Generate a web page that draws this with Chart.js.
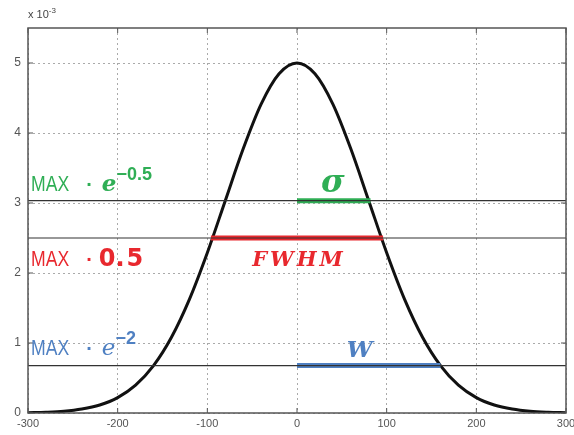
<!DOCTYPE html>
<html>
<head>
<meta charset="utf-8">
<script src="https://cdn.jsdelivr.net/npm/chart.js@4/dist/chart.umd.min.js"></script>
<style>
  html, body { margin: 0; padding: 0; background: #fff; }
  #wrap { width: 574px; height: 435px; }
</style>
</head>
<body>
<div id="wrap"><canvas id="chart" width="574" height="435"></canvas></div>
<script>
// curve, y in units of 1e-3
const curveX = [-300, -280, -260, -240, -220, -200, -180, -160, -140, -120, -100, -80, -60, -40, -20, 0,
  20, 40, 60, 80, 100, 120, 140, 160, 180, 200, 220, 240, 260, 280, 300];
const curveY = [0.004, 0.011, 0.025, 0.056, 0.114, 0.22, 0.398, 0.677, 1.082, 1.623, 2.289, 3.033, 3.774, 4.412, 4.846, 5.0,
  4.846, 4.412, 3.774, 3.033, 2.289, 1.623, 1.082, 0.677, 0.398, 0.22, 0.114, 0.056, 0.025, 0.011, 0.004];

const levelY = [3.033, 2.5, 0.677];           // MAX*e^-0.5, MAX*0.5, MAX*e^-2
const sigmaX = [0, 82];
const fwhmX = [-96, 96];
const wX = [0, 160];
const xTicks = [-300, -200, -100, 0, 100, 200, 300];
const yTicks = [0, 1, 2, 3, 4, 5];

const GREEN = "#2fae55";
const RED = "#e8282e";
const BLUE = "#4f80c2";

function seg(xs, y) {
  return xs.map((x) => ({ x, y }));
}

const datasets = [];
levelY.forEach((y) => {
  datasets.push({
    data: seg([-300, 300], y),
    borderColor: "#333",
    borderWidth: 1.2,
    pointRadius: 0,
  });
});
datasets.push({ data: seg(sigmaX, levelY[0]), borderColor: GREEN, borderWidth: 5, pointRadius: 0 });
datasets.push({ data: seg(fwhmX, levelY[1]), borderColor: RED, borderWidth: 5, pointRadius: 0 });
datasets.push({ data: seg(wX, levelY[2]), borderColor: BLUE, borderWidth: 5, pointRadius: 0 });
datasets.push({
  data: curveX.map((x, i) => ({ x, y: curveY[i] })),
  borderColor: "#111",
  borderWidth: 3,
  pointRadius: 0,
  cubicInterpolationMode: "monotone",
});

function label(ctx, parts, x, y) {
  let cx = x;
  parts.forEach((p) => {
    const sx = p.sx || 1;
    cx += p.dx || 0;
    ctx.font = p.font;
    ctx.fillStyle = p.color;
    ctx.save();
    ctx.translate(cx, y + (p.dy || 0));
    ctx.scale(sx, 1);
    ctx.fillText(p.text, 0, 0);
    ctx.restore();
    cx += ctx.measureText(p.text).width * sx;
  });
}

const annotations = {
  id: "annotations",
  afterDatasetsDraw(chart) {
    const { ctx, chartArea, scales } = chart;
    const xs = scales.x;
    const ys = scales.y;
    ctx.save();
    // box
    ctx.strokeStyle = "#555";
    ctx.lineWidth = 1.5;
    ctx.strokeRect(chartArea.left, chartArea.top, chartArea.right - chartArea.left, chartArea.bottom - chartArea.top);
    // inward ticks
    ctx.lineWidth = 1;
    xTicks.forEach((t) => {
      const px = xs.getPixelForValue(t);
      ctx.beginPath();
      ctx.moveTo(px, chartArea.bottom);
      ctx.lineTo(px, chartArea.bottom - 5);
      ctx.moveTo(px, chartArea.top);
      ctx.lineTo(px, chartArea.top + 5);
      ctx.stroke();
    });
    yTicks.forEach((t) => {
      const py = ys.getPixelForValue(t);
      ctx.beginPath();
      ctx.moveTo(chartArea.left, py);
      ctx.lineTo(chartArea.left + 5, py);
      ctx.moveTo(chartArea.right, py);
      ctx.lineTo(chartArea.right - 5, py);
      ctx.stroke();
    });
    // exponent marker
    label(ctx, [
      { text: "x 10", font: "11px 'Liberation Sans'", color: "#444" },
      { text: "-3", font: "8px 'Liberation Sans'", color: "#444", dy: -5 },
    ], chartArea.left, chartArea.top - 10);

    ctx.textBaseline = "alphabetic";
    const left = chartArea.left + 3;
    const sans = "22px 'Liberation Sans'";
    const dot = "bold 20px 'Liberation Sans'";
    const mathI = "italic bold 23px 'DejaVu Serif'";
    const sup = "bold 18px 'Liberation Sans'";
    label(ctx, [
      { text: "MAX", font: sans, color: GREEN, sx: 0.8 },
      { text: "\u00b7", font: dot, color: GREEN, dx: 17 },
      { text: "e", font: mathI, color: GREEN, dx: 9 },
      { text: "\u22120.5", font: sup, color: GREEN, dx: 0, dy: -11 },
    ], left, ys.getPixelForValue(levelY[0]) - 10);
    label(ctx, [
      { text: "MAX", font: sans, color: RED, sx: 0.8 },
      { text: "\u00b7", font: dot, color: RED, dx: 17 },
      { text: "0", font: "bold 24px 'DejaVu Sans'", color: RED, dx: 6 },
      { text: ".", font: "bold 24px 'DejaVu Sans'", color: RED, dx: 0 },
      { text: "5", font: "bold 24px 'DejaVu Sans'", color: RED, dx: 2 },
    ], left, ys.getPixelForValue(levelY[1]) + 28);
    label(ctx, [
      { text: "MAX", font: sans, color: BLUE, sx: 0.8 },
      { text: "\u00b7", font: dot, color: BLUE, dx: 17 },
      { text: "e", font: "italic 23px 'DejaVu Serif'", color: BLUE, dx: 9 },
      { text: "\u22122", font: sup, color: BLUE, dx: 0, dy: -11 },
    ], left, ys.getPixelForValue(levelY[2]) - 11);

    ctx.textAlign = "center";
    ctx.font = "italic bold 32px 'DejaVu Serif'";
    ctx.fillStyle = GREEN;
    ctx.fillText("\u03c3", xs.getPixelForValue(40), ys.getPixelForValue(levelY[0]) - 9);
    ctx.font = "italic bold 21px 'DejaVu Serif'";
    ctx.fillStyle = RED;
    ctx.letterSpacing = "3px";
    ctx.fillText("FWHM", xs.getPixelForValue(0) + 2, ys.getPixelForValue(levelY[1]) + 28);
    ctx.letterSpacing = "0px";
    ctx.font = "italic bold 23px 'DejaVu Serif'";
    ctx.fillStyle = BLUE;
    ctx.fillText("W", xs.getPixelForValue(70), ys.getPixelForValue(levelY[2]) - 9);
    ctx.restore();
  },
};

new Chart(document.getElementById("chart"), {
  type: "line",
  data: { datasets },
  options: {
    responsive: false,
    animation: false,
    layout: { padding: { top: 28, right: 8, left: 0, bottom: 0 } },
    plugins: { legend: { display: false }, tooltip: { enabled: false } },
    scales: {
      x: {
        type: "linear",
        min: -300,
        max: 300,
        afterBuildTicks: (scale) => { scale.ticks = xTicks.map((v) => ({ value: v })); },
        afterFit: (scale) => {
          scale.height = 22;
          scale.paddingLeft = 0;
          scale.paddingRight = 0;
        },
        grid: { color: "#aaa", lineWidth: 1, drawTicks: false },
        border: { display: false, dash: [2, 3] },
        ticks: { color: "#555", font: { family: "'Liberation Sans'", size: 11 }, padding: 4, maxRotation: 0 },
      },
      y: {
        min: 0,
        max: 5.5,
        afterBuildTicks: (scale) => { scale.ticks = yTicks.map((v) => ({ value: v })); },
        afterFit: (scale) => {
          scale.width = 28;
          scale.paddingTop = 0;
          scale.paddingBottom = 0;
        },
        grid: { color: "#aaa", lineWidth: 1, drawTicks: false },
        border: { display: false, dash: [2, 3] },
        ticks: { color: "#555", font: { family: "'Liberation Sans'", size: 12 }, padding: 7 },
      },
    },
  },
  plugins: [annotations],
});
</script>
</body>
</html>
